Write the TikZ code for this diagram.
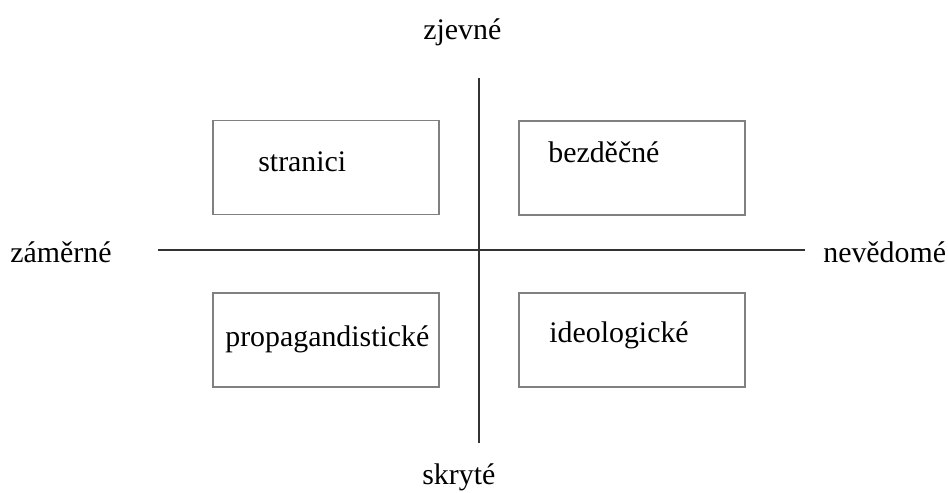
\documentclass[tikz,border=0pt]{standalone}
\usepackage{fontspec}
\setmainfont{Liberation Serif}
\begin{document}
\begin{tikzpicture}[x=0.02cm, y=-0.02cm, every node/.style={font=\fontsize{17}{20}\selectfont},
    quad/.style={draw=black!50, line width=1.1pt, minimum width=4.52cm, minimum height=1.88cm, inner sep=0pt},
    word/.style={anchor=base west, inner sep=0pt},
    axis/.style={black!80, line width=0.9pt}]
      \useasboundingbox (0,0) rectangle (948,493);

      % Axes
      \coordinate (top) at (479,78);
      \coordinate (bot) at (479,443);
      \coordinate (lft) at (158,250);
      \coordinate (rgt) at (805,250);
      \draw[axis] (top) -- (bot);
      \draw[axis] (lft) -- (rgt);
      \node[word] (zjevne) at (423,40) {zjevné};
      \node[word] (skryte) at (422,485) {skryté};
      \node[word] (zamerne) at (10,263) {záměrné};
      \node[word] (nevedome) at (823,263) {nevědomé};

      % Quadrants
      \node[quad] (tl) at (326,167.5) {};
      \node[quad] (tr) at (632,168) {};
      \node[quad] (bl) at (326,340) {};
      \node[quad] (br) at (632,340) {};
      \node[word] (stranici) at (258,172) {stranici};
      \node[word] (bezdecne) at (548,163) {bezděčné};
      \node[word] (propag) at (225,347) {propagandistické};
      \node[word] (ideol) at (549,343) {ideologické};
    \end{tikzpicture}
\end{document}
